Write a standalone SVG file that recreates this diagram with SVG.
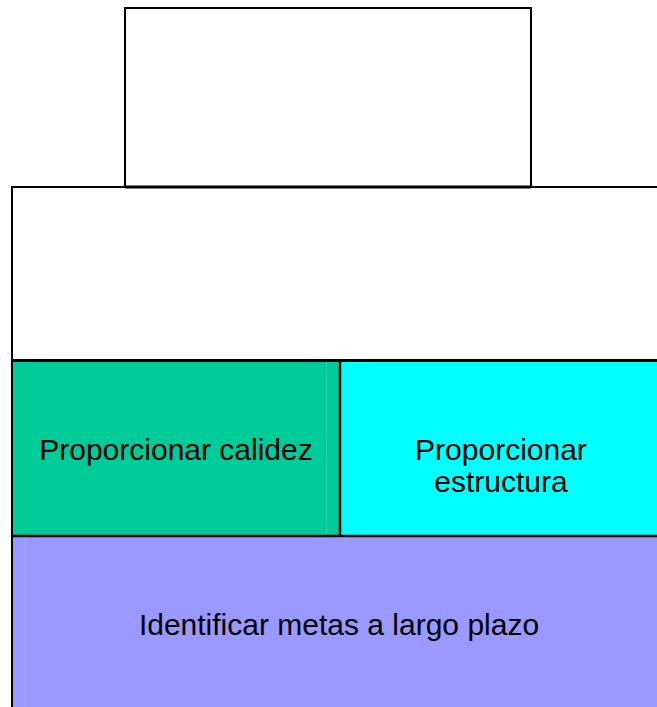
<svg xmlns="http://www.w3.org/2000/svg" width="657" height="707" viewBox="0 0 657 707">
<style>
.lbl{font-family:"Liberation Sans",Arial,sans-serif;font-size:30px;fill:#000;text-anchor:middle}
.ln{stroke:#000;fill:none}
</style>
<rect width="657" height="707" fill="#fff"/>
<g id="top-box">
<rect x="125" y="8" width="406" height="179" fill="#fff" stroke="#000" stroke-width="2"/>
</g>
<g id="frame">
<rect x="12" y="187" width="660" height="530" fill="#fff" stroke="#000" stroke-width="2"/>
</g>
<g id="calidez">
<rect x="13" y="362" width="326" height="173" fill="#00CC99"/>
<line x1="326.5" y1="362" x2="326.5" y2="535" stroke="#2ed4aa" stroke-width="1"/>
<text class="lbl" x="176" y="460">Proporcionar calidez</text>
</g>
<g id="estructura">
<rect x="341" y="362" width="316" height="173" fill="#00FFFF"/>
<text class="lbl" x="501" y="460">Proporcionar</text>
<text class="lbl" x="501" y="492">estructura</text>
</g>
<g id="metas">
<rect x="13" y="537" width="644" height="170" fill="#9999FF"/>
<line x1="25.5" y1="537" x2="25.5" y2="707" stroke="#aaaaff" stroke-width="1"/>
<text class="lbl" x="339" y="635">Identificar metas a largo plazo</text>
</g>
<g id="dividers">
<line class="ln" x1="12" y1="360.5" x2="657" y2="360.5" stroke-width="3"/>
<line class="ln" x1="12" y1="536" x2="657" y2="536" stroke-width="2.5"/>
<line class="ln" x1="340" y1="361" x2="340" y2="536" stroke-width="2.5"/>
<line class="ln" x1="125" y1="187" x2="531" y2="187" stroke-width="3"/>
</g>
</svg>
